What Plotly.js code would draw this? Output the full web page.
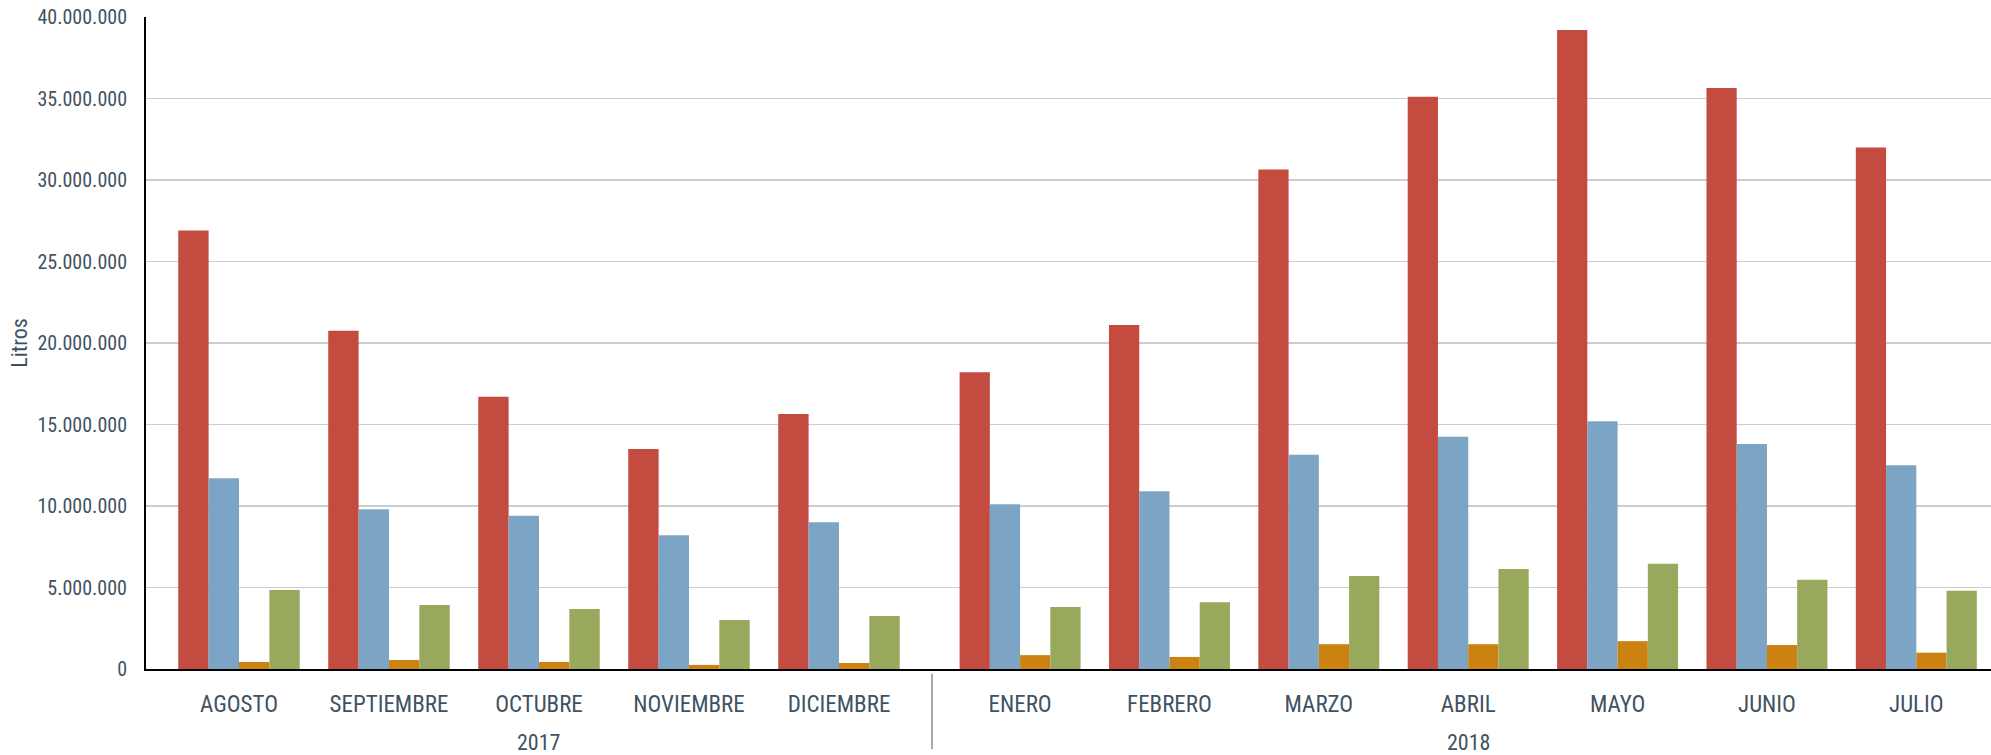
<!DOCTYPE html>
<html>
<head>
<meta charset="utf-8">
<script src="https://cdn.plot.ly/plotly-3.0.1.min.js"></script>
<style>html,body{margin:0;padding:0;background:#fff}#chart{width:1991px;height:755px}</style>
</head>
<body>
<div id="chart"></div>
<script>
// ---- data ----
const months2017 = ['AGOSTO', 'SEPTIEMBRE', 'OCTUBRE', 'NOVIEMBRE', 'DICIEMBRE'];
const months2018 = ['ENERO', 'FEBRERO', 'MARZO', 'ABRIL', 'MAYO', 'JUNIO', 'JULIO'];
const years = ['2017', '2018'];
const seriesNames = ['Serie 1', 'Serie 2', 'Serie 3', 'Serie 4'];
const serie1 = [26900000, 20750000, 16700000, 13500000, 15650000, 18200000, 21100000, 30650000, 35100000, 39200000, 35650000, 32000000];
const serie2 = [11700000, 9800000, 9400000, 8200000, 9000000, 10100000, 10900000, 13150000, 14250000, 15200000, 13800000, 12500000];
const serie3 = [430000, 550000, 430000, 250000, 370000, 850000, 740000, 1520000, 1520000, 1710000, 1470000, 1000000];
const serie4 = [4850000, 3930000, 3680000, 3000000, 3250000, 3800000, 4100000, 5700000, 6130000, 6450000, 5470000, 4800000];
const yTitle = 'Litros';

// ---- style ----
const FONT = '"Liberation Sans Narrow", "Roboto Condensed", "Arial Narrow", Roboto, sans-serif';
const TEXT = '#3f5262';
const colors = ['#c44b40', '#7ca4c4', '#cc8210', '#98a85c'];
const allSeries = [serie1, serie2, serie3, serie4];

const n17 = months2017.length;
const traces = [];
allSeries.forEach((s, i) => {
  traces.push({type: 'bar', name: seriesNames[i], x: months2017, y: s.slice(0, n17),
    xaxis: 'x', yaxis: 'y', marker: {color: colors[i]}, showlegend: false});
  traces.push({type: 'bar', name: seriesNames[i], x: months2018, y: s.slice(n17),
    xaxis: 'x2', yaxis: 'y', marker: {color: colors[i]}, showlegend: false});
});

const split = 0.426;
const xCommon = {
  type: 'category', showline: true, linecolor: '#000', linewidth: 2,
  ticks: 'outside', ticklen: 13, tickcolor: 'rgba(0,0,0,0)',
  tickfont: {size: 23, color: TEXT, family: FONT}, showgrid: false, zeroline: false,
  anchor: 'y', fixedrange: true
};

const layout = {
  width: 1991, height: 755,
  margin: {l: 146, r: 0, t: 17, b: 86},
  paper_bgcolor: '#fff', plot_bgcolor: '#fff',
  separators: ',.',
  font: {family: FONT, color: TEXT, size: 20},
  barmode: 'group', bargap: 0.19, bargroupgap: 0,
  showlegend: false,
  xaxis: Object.assign({}, xCommon, {domain: [0, split], range: [-0.62, n17 - 0.38]}),
  xaxis2: Object.assign({}, xCommon, {domain: [split, 1], range: [-0.59, months2018.length - 0.5]}),
  yaxis: {
    range: [0, 40000000], dtick: 5000000, tickformat: ',d',
    showgrid: true, gridcolor: '#cdcdcd', gridwidth: 1.5,
    showline: true, linecolor: '#000', linewidth: 2,
    ticks: 'outside', ticklen: 13, tickcolor: 'rgba(0,0,0,0)',
    tickfont: {size: 20, color: TEXT, family: FONT},
    zeroline: false, fixedrange: true,
    title: {text: yTitle, font: {size: 22, color: TEXT, family: FONT}, standoff: 4}
  },
  annotations: [
    {text: years[0], xref: 'x', x: months2017[Math.floor(n17 / 2)], yref: 'paper', y: -0.112,
     yanchor: 'middle', showarrow: false, font: {size: 22, color: TEXT, family: FONT}},
    {text: years[1], xref: 'x2', x: months2018[Math.floor(months2018.length / 2)], yref: 'paper', y: -0.112,
     yanchor: 'middle', showarrow: false, font: {size: 22, color: TEXT, family: FONT}}
  ],
  shapes: [
    {type: 'line', xref: 'paper', x0: split, x1: split, yref: 'paper', y0: -0.007, y1: -0.123,
     line: {color: '#555', width: 1}}
  ]
};

Plotly.newPlot('chart', traces, layout, {displayModeBar: false, staticPlot: true});
</script>
</body>
</html>
